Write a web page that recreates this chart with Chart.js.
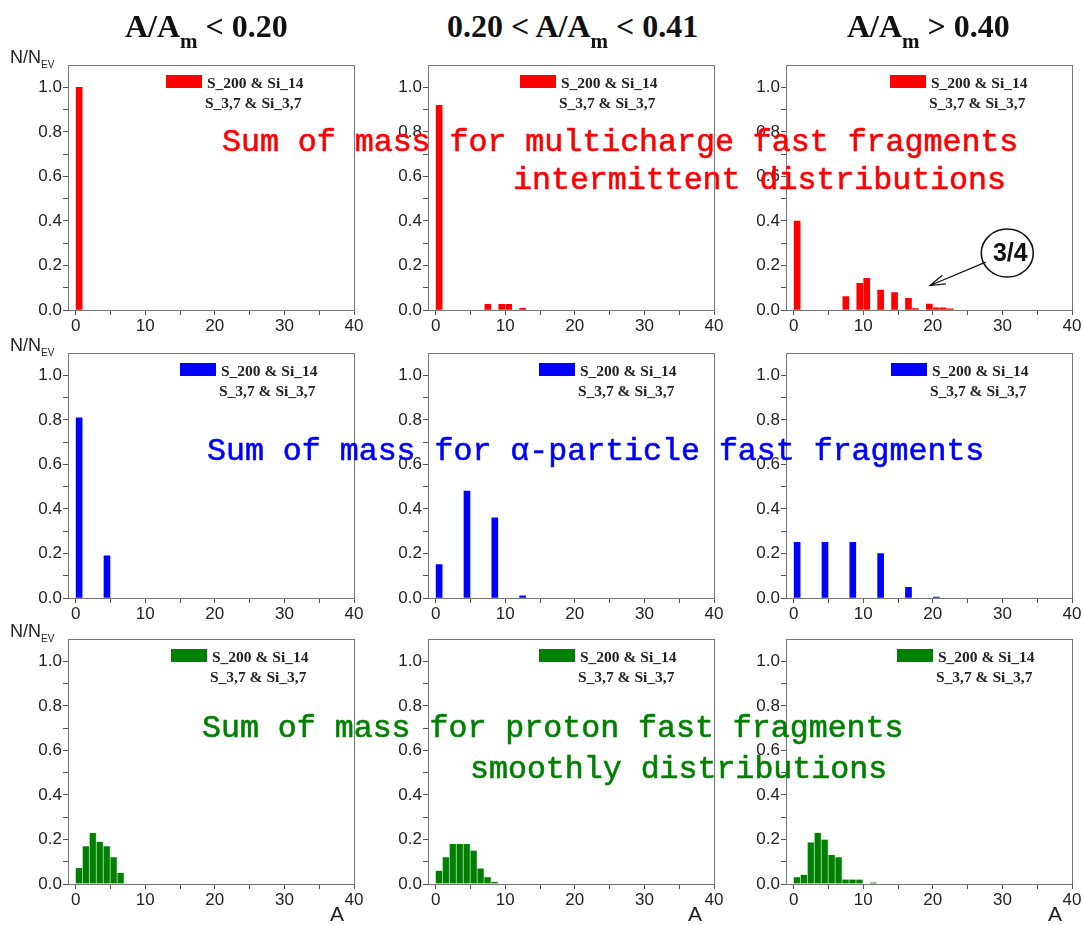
<!DOCTYPE html>
<html>
<head>
<meta charset="utf-8">
<script src="https://cdn.jsdelivr.net/npm/chart.js@4.4.1/dist/chart.umd.min.js"></script>
<style>
  body { margin: 0; background: #fff; }
  #page { position: relative; width: 1083px; height: 925px; overflow: hidden; }
  canvas { position: absolute; }
  .txt { position: absolute; white-space: pre; line-height: 1; }
  .title { font: bold 32px "Liberation Serif", serif; color: #111; }
  .title span { font-size: 21px; position: relative; top: 11px; }
  .ylab { font: 18px "Liberation Sans", Arial, sans-serif; color: #222; }
  .ylab span { font-size: 10px; position: relative; top: 5px; }
  .xlab { font: 21px "Liberation Sans", Arial, sans-serif; color: #222; }
  .leg { position: absolute; font: bold 15.5px "Liberation Serif", serif; color: #222; white-space: pre; line-height: 1; }
  .legbox { position: absolute; width: 36px; height: 13px; }
  .big { font: 31.6px "Liberation Mono", "Courier New", monospace; -webkit-text-stroke: 0.6px currentColor; }
</style>
</head>
<body>
<div id="page"></div>
<script>
// titres des colonnes (A/Am)
const colTitles = [['A/A', 'm', ' < 0.20'], ['0.20 < A/A', 'm', ' < 0.41'], ['A/A', 'm', ' > 0.40']];

// axes
const xTickValues = [0, 5, 10, 15, 20, 25, 30, 35, 40];
const xTickLabels = ['0', '', '10', '', '20', '', '30', '', '40'];
const yTickValues = [0, 0.1, 0.2, 0.3, 0.4, 0.5, 0.6, 0.7, 0.8, 0.9, 1.0];
const yTickLabels = ['0.0', '', '0.2', '', '0.4', '', '0.6', '', '0.8', '', '1.0'];

// fragments multicharges
const multiLowA = [0];
const multiLowN = [1.0];
const multiMidA = [0, 7, 9, 10, 12];
const multiMidN = [0.92, 0.025, 0.025, 0.025, 0.008];
const multiHighA = [0, 7, 9, 10, 12, 14, 16, 17, 19, 20, 21, 22];
const multiHighN = [0.40, 0.06, 0.12, 0.142, 0.09, 0.078, 0.052, 0.006, 0.027, 0.01, 0.01, 0.005];

// particules alpha
const alphaLowA = [0, 4];
const alphaLowN = [0.81, 0.19];
const alphaMidA = [0, 4, 8, 12];
const alphaMidN = [0.15, 0.48, 0.36, 0.01];
const alphaHighA = [0, 4, 8, 12, 16, 20];
const alphaHighN = [0.25, 0.25, 0.25, 0.20, 0.048, 0.004];

// protons
const protonLowA = [0, 1, 2, 3, 4, 5, 6];
const protonLowN = [0.072, 0.17, 0.23, 0.19, 0.17, 0.12, 0.05];
const protonMidA = [0, 1, 2, 3, 4, 5, 6, 7, 8];
const protonMidN = [0.06, 0.12, 0.18, 0.18, 0.18, 0.15, 0.07, 0.03, 0.01];
const protonHighA = [0, 1, 2, 3, 4, 5, 6, 7, 8, 9, 11];
const protonHighN = [0.03, 0.042, 0.187, 0.23, 0.20, 0.13, 0.12, 0.02, 0.02, 0.02, 0.007];

const legendLines = ['S_200 & Si_14', 'S_3,7 & Si_3,7'];

const rows = [
  { color: '#ff0000', series: [[multiLowA, multiLowN], [multiMidA, multiMidN], [multiHighA, multiHighN]],
    text: [['Sum of mass for multicharge fast fragments', 222, 125], ['intermittent distributions', 513, 163]] },
  { color: '#0000ff', series: [[alphaLowA, alphaLowN], [alphaMidA, alphaMidN], [alphaHighA, alphaHighN]],
    text: [['Sum of mass for \u03b1-particle fast fragments', 207, 434]] },
  { color: '#008000', series: [[protonLowA, protonLowN], [protonMidA, protonMidN], [protonHighA, protonHighN]],
    text: [['Sum of mass for proton fast fragments', 202, 711], ['smoothly distributions', 470, 752]] }
];

// mise en page
const plotLeft = [68, 428, 786];
const plotTop = [64, 352, 638];
const plotW = 286, plotH = 246;
const padL = 60, padT = 10, padR = 14, padB = 34;
const legendX = [[166, 520, 890], [180, 539, 891], [171, 539, 897]];

const page = document.getElementById('page');

function addDiv(cls, html, left, top, color) {
  const d = document.createElement('div');
  d.className = cls;
  d.innerHTML = html;
  d.style.left = left + 'px';
  d.style.top = top + 'px';
  if (color) d.style.color = color;
  page.appendChild(d);
  return d;
}

// cadre autour de la zone de tracé
const framePlugin = {
  id: 'frame',
  afterDraw(chart) {
    const a = chart.chartArea, ctx = chart.ctx;
    ctx.save();
    ctx.strokeStyle = '#777';
    ctx.lineWidth = 1;
    ctx.strokeRect(Math.round(a.left) + 0.5, Math.round(a.top) + 0.5, Math.round(a.right - a.left), Math.round(a.bottom - a.top));
    ctx.restore();
  }
};

// annotation 3/4 (panneau haut droit)
const notePlugin = {
  id: 'note',
  afterDraw(chart) {
    const xs = chart.scales.x, ys = chart.scales.y, ctx = chart.ctx;
    const cx = xs.getPixelForValue(30.7), cy = ys.getPixelForValue(0.256);
    const tx = xs.getPixelForValue(19.6), ty = ys.getPixelForValue(0.11);
    const sx = xs.getPixelForValue(27.6), sy = ys.getPixelForValue(0.215);
    ctx.save();
    ctx.strokeStyle = '#111';
    ctx.lineWidth = 1.6;
    ctx.beginPath();
    ctx.ellipse(cx, cy, 26, 24, 0, 0, Math.PI * 2);
    ctx.stroke();
    const ang = Math.atan2(sy - ty, sx - tx);
    ctx.lineWidth = 1.2;
    ctx.beginPath();
    ctx.moveTo(sx, sy);
    ctx.lineTo(tx, ty);
    ctx.moveTo(tx + 16 * Math.cos(ang - 0.3), ty + 16 * Math.sin(ang - 0.3));
    ctx.lineTo(tx, ty);
    ctx.lineTo(tx + 16 * Math.cos(ang + 0.3), ty + 16 * Math.sin(ang + 0.3));
    ctx.stroke();
    ctx.fillStyle = '#111';
    ctx.font = 'bold 25px "Liberation Sans", Arial, sans-serif';
    ctx.textAlign = 'center';
    ctx.textBaseline = 'middle';
    ctx.fillText('3/4', cx + 3, cy + 1);
    ctx.restore();
  }
};

const tickFont = { family: '"Liberation Sans", Arial, sans-serif', size: 17 };

rows.forEach((row, r) => {
  row.series.forEach(([aVals, nVals], c) => {
    const cv = document.createElement('canvas');
    const w = padL + plotW + padR, h = padT + plotH + padB;
    cv.width = w; cv.height = h;
    cv.style.left = (plotLeft[c] - padL) + 'px';
    cv.style.top = (plotTop[r] - padT) + 'px';
    page.appendChild(cv);

    const green = r === 2;
    new Chart(cv, {
      type: 'bar',
      data: {
        datasets: [{
          data: aVals.map((a, i) => ({ x: a + 0.5, y: nVals[i] })),
          backgroundColor: row.color,
          borderColor: green ? '#d8ecd8' : row.color,
          borderWidth: green ? { left: 0, right: 1, top: 0, bottom: 0 } : 0,
          borderSkipped: false,
          barThickness: green ? 7 : 6
        }]
      },
      options: {
        responsive: false,
        animation: false,
        layout: { padding: { top: padT, right: padR, left: 0, bottom: 0 } },
        plugins: { legend: { display: false }, tooltip: { enabled: false } },
        scales: {
          x: {
            type: 'linear', min: -1.1, max: 40, offset: false,
            afterBuildTicks: s => { s.ticks = xTickValues.map(v => ({ value: v })); },
            afterFit: s => { s.height = padB; },
            grid: { drawOnChartArea: false, offset: false, tickLength: 5, color: '#555' },
            border: { display: false },
            ticks: { callback: (v, i) => xTickLabels[i], font: tickFont, color: '#222', padding: 1, maxRotation: 0, autoSkip: false }
          },
          y: {
            min: 0, max: 1.1,
            afterBuildTicks: s => { s.ticks = yTickValues.map(v => ({ value: v })); },
            afterFit: s => { s.width = padL; },
            grid: { drawOnChartArea: false, tickLength: 5, color: '#555' },
            border: { display: false },
            ticks: { callback: (v, i) => yTickLabels[i], font: tickFont, color: '#222', padding: 1, autoSkip: false }
          }
        }
      },
      plugins: r === 0 && c === 2 ? [framePlugin, notePlugin] : [framePlugin]
    });

    // légende
    const lx = legendX[r][c];
    const box = document.createElement('div');
    box.className = 'legbox';
    box.style.left = lx + 'px';
    box.style.top = (plotTop[r] + 11) + 'px';
    box.style.background = row.color;
    page.appendChild(box);
    addDiv('leg', legendLines[0], lx + 41, plotTop[r] + 11);
    addDiv('leg', legendLines[1], lx + 39, plotTop[r] + 31);

    if (r === 2) addDiv('txt xlab', 'A', [330, 688, 1048][c], plotTop[r] + plotH + 18);
  });
  addDiv('txt ylab', 'N/N<span>EV</span>', 10, plotTop[r] - 17);
});

colTitles.forEach((t, c) => {
  addDiv('txt title', t[0] + '<span>' + t[1] + '</span>' + t[2], [125, 447, 847][c], 8);
});

// textes superposés
rows.forEach(row => {
  row.text.forEach(([s, x, y]) => addDiv('txt big', s, x, y, row.color));
});
</script>
</body>
</html>
